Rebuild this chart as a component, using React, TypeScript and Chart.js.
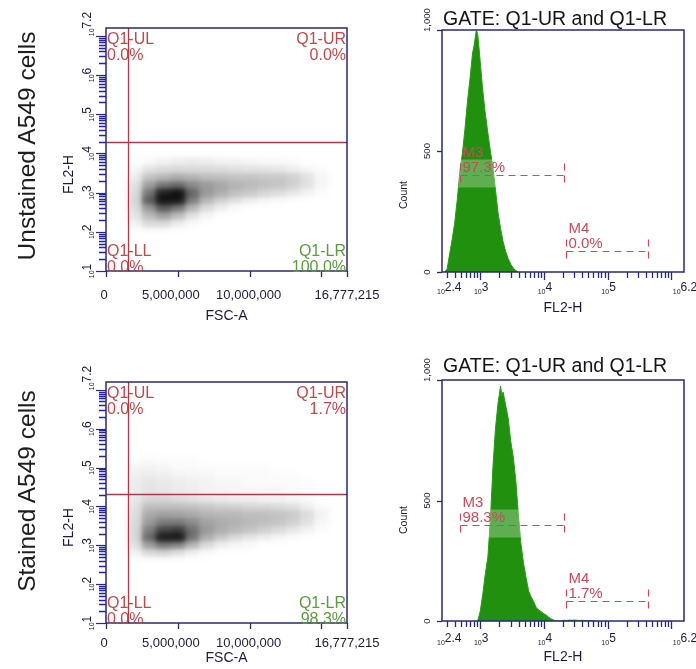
import React, { useEffect, useRef } from 'react';
import { Chart, registerables } from 'chart.js';
Chart.register(...registerables);

const FONT = '"Liberation Sans", Arial, Helvetica, sans-serif';
const NAVY = '#2a2a72';
const TICK_BLUE = '#2323a6';
const LABEL_DARK = '#1c1c3a';
const GATE_RED = '#ad3a48';
const Q_RED = '#bd4a4c';
const Q_GREEN = '#5c9c3c';
const MARK_RED = '#c44c5c';
const HIST_GREEN = '#22900f';

// ---------- scatter panels: FSC-A (millions, 1M bins) x FL2-H (log10, 0.2 decade rows) ----------
const fscBinCentersM = [2, 3, 4, 5, 6, 7, 8, 9, 10, 11, 12, 13, 14, 15];
const fscBinWidthM = 1;
const fl2RowWidthDec = 0.2;

const unstainedRowsLog = [2.2, 2.4, 2.6, 2.8, 3.0, 3.2, 3.4, 3.6, 3.8];
const unstainedDensity = [
  [0.04, 0.1, 0.1, 0.05, 0.02, 0, 0, 0, 0, 0, 0, 0, 0, 0],
  [0.08, 0.22, 0.3, 0.2, 0.08, 0.03, 0, 0, 0, 0, 0, 0, 0, 0],
  [0.1, 0.34, 0.58, 0.46, 0.24, 0.1, 0.05, 0.02, 0, 0, 0, 0, 0, 0],
  [0.12, 0.6, 1.0, 0.95, 0.45, 0.24, 0.14, 0.09, 0.05, 0.03, 0.02, 0, 0, 0],
  [0.11, 0.48, 0.9, 1.0, 0.55, 0.34, 0.27, 0.21, 0.17, 0.13, 0.1, 0.07, 0.04, 0.01],
  [0.09, 0.32, 0.45, 0.5, 0.4, 0.34, 0.29, 0.25, 0.23, 0.21, 0.19, 0.15, 0.09, 0.03],
  [0.06, 0.18, 0.23, 0.26, 0.24, 0.21, 0.2, 0.19, 0.19, 0.17, 0.17, 0.15, 0.09, 0.03],
  [0.03, 0.08, 0.1, 0.11, 0.11, 0.11, 0.1, 0.09, 0.08, 0.08, 0.07, 0.05, 0.03, 0.01],
  [0, 0.02, 0.04, 0.05, 0.06, 0.05, 0.04, 0.04, 0.03, 0.02, 0.02, 0.01, 0, 0],
];

const stainedRowsLog = [2.8, 3.0, 3.2, 3.4, 3.6, 3.8, 4.0, 4.2, 4.4, 4.6, 4.8, 5.0, 5.2];
const stainedDensity = [
  [0.04, 0.1, 0.12, 0.08, 0.04, 0.02, 0, 0, 0, 0, 0, 0, 0, 0],
  [0.09, 0.32, 0.45, 0.4, 0.24, 0.11, 0.05, 0.03, 0.02, 0, 0, 0, 0, 0],
  [0.12, 0.55, 0.98, 1.0, 0.5, 0.27, 0.17, 0.11, 0.07, 0.05, 0.03, 0.02, 0, 0],
  [0.12, 0.44, 0.68, 0.74, 0.5, 0.34, 0.27, 0.23, 0.19, 0.15, 0.11, 0.07, 0.04, 0.01],
  [0.11, 0.33, 0.44, 0.44, 0.39, 0.31, 0.27, 0.25, 0.23, 0.21, 0.19, 0.15, 0.09, 0.03],
  [0.1, 0.28, 0.3, 0.29, 0.27, 0.24, 0.23, 0.23, 0.21, 0.21, 0.19, 0.17, 0.11, 0.04],
  [0.09, 0.2, 0.21, 0.21, 0.19, 0.17, 0.15, 0.14, 0.13, 0.12, 0.11, 0.09, 0.05, 0.02],
  [0.07, 0.13, 0.13, 0.11, 0.09, 0.07, 0.06, 0.05, 0.05, 0.04, 0.04, 0.03, 0.02, 0],
  [0.06, 0.08, 0.07, 0.06, 0.05, 0.04, 0.04, 0.03, 0.03, 0.03, 0.03, 0.02, 0.01, 0],
  [0.06, 0.08, 0.07, 0.06, 0.05, 0.04, 0.03, 0.03, 0.02, 0.02, 0.02, 0.02, 0.01, 0],
  [0.05, 0.06, 0.05, 0.04, 0.03, 0.03, 0.02, 0.02, 0.02, 0.02, 0.01, 0.01, 0, 0],
  [0.03, 0.04, 0.03, 0.02, 0.02, 0.01, 0.01, 0.01, 0.01, 0.01, 0, 0, 0, 0],
  [0.01, 0.02, 0.01, 0.01, 0.01, 0, 0, 0, 0, 0, 0, 0, 0, 0],
];

const fscTicks = [0, 5000000, 10000000, 15000000, 16777215];
const fscTickLabels = [0, 5000000, 10000000, 16777215];
const fl2TickExps = [1, 2, 3, 4, 5, 6, 7.2];
const quadGateFsc = 1530000;
const quadGateFl2Log = [4.3, 4.31];
const quadNames = ['Q1-UL', 'Q1-UR', 'Q1-LL', 'Q1-LR'];
const unstainedQuadPct = [0.0, 0.0, 0.0, 100.0];
const stainedQuadPct = [0.0, 1.7, 0.0, 98.3];

// ---------- histograms: FL2-H (log10 bin centers) vs Count ----------
const unstainedHistLog = [2.44, 2.48, 2.52, 2.56, 2.6, 2.64, 2.68, 2.72, 2.76, 2.8, 2.84, 2.88, 2.9, 2.92, 2.94, 2.96, 2.98, 3.0, 3.04, 3.08, 3.12, 3.16, 3.2, 3.24, 3.28, 3.32, 3.36, 3.4, 3.44, 3.48, 3.52, 3.56, 3.6];
const unstainedHistCount = [0, 12, 75, 135, 205, 300, 415, 490, 590, 705, 800, 905, 930, 965, 1000, 985, 930, 870, 750, 655, 575, 500, 430, 340, 245, 180, 125, 85, 55, 32, 16, 6, 0];
const stainedHistLog = [2.96, 3.0, 3.04, 3.08, 3.12, 3.16, 3.2, 3.24, 3.28, 3.3, 3.32, 3.34, 3.36, 3.4, 3.44, 3.48, 3.52, 3.56, 3.6, 3.64, 3.68, 3.72, 3.76, 3.8, 3.84, 3.88, 3.92, 3.96, 4.0, 4.04, 4.08, 4.12, 4.16, 4.2, 4.24, 4.28, 4.32, 4.36, 4.4, 4.44, 4.48, 4.52, 4.56, 4.6, 4.64, 4.68, 4.72, 4.76, 4.8];
const stainedHistCount = [0, 40, 110, 195, 265, 420, 640, 800, 905, 940, 975, 935, 950, 895, 840, 745, 680, 580, 440, 320, 240, 180, 125, 100, 80, 56, 45, 38, 30, 24, 15, 8, 3, 1, 0, 2, 3, 2, 4, 3, 4, 3, 2, 3, 2, 1, 2, 1, 0];
const histTickExps = [2.4, 3, 4, 5, 6.2];
const countTicks = [0, 500, 1000];
const markerNames = ['M3', 'M4'];
const markerFromLog = [2.68, 4.35];
const markerToLog = [4.31, 5.64];
const markerLevel = [400, 85];
const unstainedMarkerPct = [97.3, 0.0];
const stainedMarkerPct = [98.3, 1.7];
const gateTitle = 'GATE: Q1-UR and Q1-LR';

// ---------- helpers ----------
function line(ctx: CanvasRenderingContext2D, x0: number, y0: number, x1: number, y1: number) {
  ctx.beginPath();
  ctx.moveTo(x0, y0);
  ctx.lineTo(x1, y1);
  ctx.stroke();
}

function powLabel(ctx: CanvasRenderingContext2D, exp: string, x: number, y: number, align: string, base: number, sup: number, raise: number) {
  ctx.font = `${base}px ${FONT}`;
  const w10 = ctx.measureText('10').width;
  ctx.font = `${sup}px ${FONT}`;
  const we = ctx.measureText(exp).width;
  const total = w10 + we;
  const sx = align === 'center' ? x - total / 2 : align === 'right' ? x - total : x;
  ctx.textAlign = 'left';
  ctx.textBaseline = 'alphabetic';
  ctx.font = `${base}px ${FONT}`;
  ctx.fillText('10', sx, y);
  ctx.font = `${sup}px ${FONT}`;
  ctx.fillText(exp, sx + w10, y - raise);
}

function frame(ctx: CanvasRenderingContext2D, a: any) {
  ctx.strokeStyle = NAVY;
  ctx.lineWidth = 1.5;
  ctx.setLineDash([]);
  ctx.strokeRect(a.left, a.top, a.right - a.left, a.bottom - a.top);
}

const densityPlugin = {
  id: 'densityCells',
  beforeDatasetsDraw(chart: any) {
    const { ctx, chartArea: a, scales } = chart;
    const ds = chart.data.datasets[0];
    const meta = chart.getDatasetMeta(0);
    const off = document.createElement('canvas');
    off.width = chart.width;
    off.height = chart.height;
    const o = off.getContext('2d')!;
    const half = Math.pow(10, fl2RowWidthDec / 2);
    meta.data.forEach((_el: any, i: number) => {
      const p = ds.data[i];
      const x0 = Math.round(scales.x.getPixelForValue(p.x - fscBinWidthM * 5e5));
      const x1 = Math.round(scales.x.getPixelForValue(p.x + fscBinWidthM * 5e5));
      const y0 = Math.round(scales.y.getPixelForValue(p.y * half));
      const y1 = Math.round(scales.y.getPixelForValue(p.y / half));
      o.fillStyle = `rgba(12,12,12,${Math.min(1, p.d)})`;
      o.fillRect(x0, y0, x1 - x0, y1 - y0);
    });
    ctx.save();
    ctx.beginPath();
    ctx.rect(a.left, a.top, a.right - a.left, a.bottom - a.top);
    ctx.clip();
    ctx.filter = 'blur(3.6px)';
    ctx.drawImage(off, 0, 0);
    ctx.filter = 'blur(1.2px)';
    ctx.globalAlpha = 0.35;
    ctx.drawImage(off, 0, 0);
    ctx.restore();
  },
};

const scatterDecor = {
  id: 'scatterDecor',
  afterDraw(chart: any) {
    const o = chart.options.plugins.scatterDecor;
    const { ctx, chartArea: a, scales } = chart;
    const x = scales.x;
    const y = scales.y;
    ctx.save();
    // quadrant gate
    ctx.strokeStyle = GATE_RED;
    ctx.lineWidth = 1.3;
    const gx = Math.round(x.getPixelForValue(o.gateX)) + 0.5;
    const gy = Math.round(y.getPixelForValue(Math.pow(10, o.gateYLog))) + 0.5;
    line(ctx, gx, a.top, gx, a.bottom);
    line(ctx, a.left, gy, a.right, gy);
    // y ticks (log)
    for (let n = 1; n <= 7; n++) {
      for (let k = 1; k <= 9; k++) {
        const v = k * Math.pow(10, n);
        if (v > y.max) break;
        const py = Math.round(y.getPixelForValue(v)) + 0.5;
        if (k === 1) {
          ctx.strokeStyle = NAVY;
          ctx.lineWidth = 1.2;
          line(ctx, a.left - 10, py, a.left, py);
        } else {
          ctx.strokeStyle = TICK_BLUE;
          ctx.lineWidth = 1.5;
          line(ctx, a.left - 7, py, a.left, py);
        }
      }
    }
    // x ticks
    ctx.strokeStyle = NAVY;
    ctx.lineWidth = 1.3;
    fscTicks.forEach((v) => {
      const px = Math.round(x.getPixelForValue(v)) + 0.5;
      line(ctx, px, a.bottom, px, a.bottom + 6);
    });
    frame(ctx, a);
    // tick labels
    ctx.fillStyle = LABEL_DARK;
    ctx.font = `13px ${FONT}`;
    ctx.textAlign = 'center';
    ctx.textBaseline = 'alphabetic';
    fscTickLabels.forEach((v, i) => {
      const px = x.getPixelForValue(v);
      const dx = i === 0 ? -2 : i === 1 ? -7 : i === 2 ? -1 : 0;
      ctx.fillText(v.toLocaleString('en-US'), px + dx, o.tickBase);
    });
    fl2TickExps.forEach((e, i) => {
      const py = y.getPixelForValue(Math.pow(10, e));
      ctx.save();
      ctx.translate(a.left - 12.5, py + (i === fl2TickExps.length - 1 ? -4 : 0));
      ctx.rotate(-Math.PI / 2);
      powLabel(ctx, String(e), 0, 0, 'center', 7, 12, 3);
      ctx.restore();
    });
    // axis titles
    ctx.font = `14px ${FONT}`;
    ctx.textAlign = 'center';
    ctx.fillText('FSC-A', (a.left + a.right) / 2, o.titleBase);
    ctx.save();
    ctx.translate(a.left - 33, (a.top + a.bottom) / 2 + 25);
    ctx.rotate(-Math.PI / 2);
    ctx.fillText('FL2-H', 0, 0);
    ctx.restore();
    // quadrant labels
    ctx.font = `16px ${FONT}`;
    const pct = o.pct as number[];
    const place = [
      { i: 0, x: a.left + 1, y: a.top + 16, al: 'left' },
      { i: 1, x: a.right - 1, y: a.top + 16, al: 'right' },
      { i: 2, x: a.left + 1, y: a.bottom - 15, al: 'left' },
      { i: 3, x: a.right - 1, y: a.bottom - 15, al: 'right' },
    ];
    place.forEach((p) => {
      ctx.fillStyle = p.i === 3 ? Q_GREEN : Q_RED;
      ctx.textAlign = p.al as CanvasTextAlign;
      ctx.fillText(quadNames[p.i], p.x, p.y);
      ctx.fillText(pct[p.i].toFixed(1) + '%', p.x, p.y + 15.5);
    });
    ctx.restore();
  },
};

const histDecor = {
  id: 'histDecor',
  afterDraw(chart: any) {
    const o = chart.options.plugins.histDecor;
    const { ctx, chartArea: a, scales } = chart;
    const x = scales.x;
    const y = scales.y;
    ctx.save();
    // markers
    markerNames.forEach((name, i) => {
      const x0 = Math.round(x.getPixelForValue(Math.pow(10, markerFromLog[i]))) + 0.5;
      const x1 = Math.round(x.getPixelForValue(Math.pow(10, markerToLog[i]))) + 0.5;
      const ly = Math.round(y.getPixelForValue(markerLevel[i])) + 0.5;
      ctx.fillStyle = 'rgba(255,255,255,0.28)';
      ctx.fillRect(x0 - 2, ly - 16, x1 - x0 + 5, 28);
      ctx.strokeStyle = MARK_RED;
      ctx.lineWidth = 1.2;
      ctx.setLineDash([7, 5]);
      line(ctx, x0, ly, x1, ly);
      line(ctx, x0, ly - 12, x0, ly + 10);
      line(ctx, x1, ly - 12, x1, ly + 10);
      ctx.setLineDash([]);
      ctx.fillStyle = MARK_RED;
      ctx.font = `15px ${FONT}`;
      ctx.textAlign = 'left';
      ctx.textBaseline = 'alphabetic';
      ctx.fillText(name, x0 + 2, ly - 18.5);
      ctx.fillText((o.pct[i] as number).toFixed(1) + '%', x0 + 2, ly - 3.5);
    });
    // x ticks (log)
    ctx.strokeStyle = NAVY;
    ctx.lineWidth = 1.3;
    for (let n = 2; n <= 6; n++) {
      for (let k = 1; k <= 9; k++) {
        const lv = n + Math.log10(k);
        if (lv < 2.4 || lv > 6.2) continue;
        const px = Math.round(x.getPixelForValue(k * Math.pow(10, n))) + 0.5;
        line(ctx, px, a.bottom, px, a.bottom + (k === 1 ? 8 : 6));
      }
    }
    // y ticks
    countTicks.forEach((v) => {
      const py = Math.round(y.getPixelForValue(v)) + 0.5;
      line(ctx, a.left - 5, py, a.left, py);
    });
    frame(ctx, a);
    // x labels
    ctx.fillStyle = LABEL_DARK;
    histTickExps.forEach((e, i) => {
      const px = x.getPixelForValue(Math.pow(10, e));
      const al = i === 0 ? 'left' : 'center';
      powLabel(ctx, String(e), i === 0 ? px - 5 : px + 1, o.tickBase, al, 7, 12, 3);
    });
    // y labels
    ctx.font = `9.5px ${FONT}`;
    countTicks.forEach((v, i) => {
      const py = y.getPixelForValue(v);
      ctx.save();
      ctx.translate(a.left - 12.5, py);
      ctx.rotate(-Math.PI / 2);
      ctx.textAlign = i === countTicks.length - 1 ? 'left' : 'center';
      ctx.fillText(v.toLocaleString('en-US'), i === countTicks.length - 1 ? -2 : 0, 0);
      ctx.restore();
    });
    // titles
    ctx.font = `14px ${FONT}`;
    ctx.textAlign = 'center';
    ctx.fillText('FL2-H', (a.left + a.right) / 2, a.bottom + 40);
    ctx.save();
    ctx.font = `10.5px ${FONT}`;
    ctx.translate(a.left - 35, o.countY);
    ctx.rotate(-Math.PI / 2);
    ctx.fillText('Count', 0, 0);
    ctx.restore();
    ctx.font = `19.5px ${FONT}`;
    ctx.fillStyle = '#151515';
    ctx.fillText(gateTitle, 555, o.gateBase);
    ctx.restore();
  },
};

function makeScatter(canvas: HTMLCanvasElement, p: any) {
  const cells: any[] = [];
  p.rows.forEach((lg: number, r: number) => {
    fscBinCentersM.forEach((cm, c) => {
      const d = p.density[r][c];
      if (d > 0) cells.push({ x: cm * 1e6, y: Math.pow(10, lg), d });
    });
  });
  return new Chart(canvas, {
    type: 'scatter',
    data: { datasets: [{ data: cells, pointRadius: 0, pointHoverRadius: 0 }] },
    options: {
      animation: false,
      responsive: false,
      events: [],
      layout: { padding: { left: p.area.l, top: p.area.t, right: 696 - p.area.r, bottom: 669 - p.area.b } },
      scales: {
        x: { type: 'linear', min: 0, max: 16777215, display: false, bounds: 'data' },
        y: { type: 'logarithmic', min: 10, max: Math.pow(10, 7.2), display: false, bounds: 'data' },
      },
      plugins: {
        legend: { display: false },
        tooltip: { enabled: false },
        scatterDecor: { gateX: quadGateFsc, gateYLog: p.gateYLog, pct: p.pct, tickBase: p.tickBase, titleBase: p.titleBase },
      } as any,
    },
    plugins: [densityPlugin, scatterDecor],
  } as any);
}

function makeHist(canvas: HTMLCanvasElement, p: any) {
  const pts = p.logs.map((lg: number, i: number) => ({ x: Math.pow(10, lg), y: p.counts[i] }));
  return new Chart(canvas, {
    type: 'line',
    data: {
      datasets: [{
        data: pts, fill: 'origin', backgroundColor: HIST_GREEN, borderColor: '#2a9a18',
        borderWidth: 1, pointRadius: 0, tension: 0,
      }],
    },
    options: {
      animation: false,
      responsive: false,
      events: [],
      layout: { padding: { left: p.area.l, top: p.area.t, right: 696 - p.area.r, bottom: 669 - p.area.b } },
      scales: {
        x: { type: 'logarithmic', min: Math.pow(10, 2.4), max: Math.pow(10, 6.2), display: false, bounds: 'data' },
        y: { type: 'linear', min: 0, max: 1000, display: false, bounds: 'data' },
      },
      plugins: {
        legend: { display: false },
        tooltip: { enabled: false },
        histDecor: { pct: p.pct, tickBase: p.tickBase, countY: p.countY, gateBase: p.gateBase },
      } as any,
    },
    plugins: [histDecor],
  } as any);
}

const rowLabel = (cx: number, cy: number): React.CSSProperties => ({
  position: 'absolute', left: cx, top: cy, transform: 'translate(-50%, -50%) rotate(-90deg)',
  whiteSpace: 'nowrap', font: `24.5px ${FONT}`, color: '#1e1e1e', lineHeight: '1',
});

export default function App() {
  const r0 = useRef<HTMLCanvasElement>(null);
  const r1 = useRef<HTMLCanvasElement>(null);
  const r2 = useRef<HTMLCanvasElement>(null);
  const r3 = useRef<HTMLCanvasElement>(null);
  useEffect(() => {
    const charts = [
      makeScatter(r0.current!, { area: { l: 106, t: 28, r: 347, b: 271 }, rows: unstainedRowsLog, density: unstainedDensity, gateYLog: quadGateFl2Log[0], pct: unstainedQuadPct, tickBase: 299, titleBase: 320 }),
      makeScatter(r1.current!, { area: { l: 106, t: 382, r: 347, b: 623 }, rows: stainedRowsLog, density: stainedDensity, gateYLog: quadGateFl2Log[1], pct: stainedQuadPct, tickBase: 646.5, titleBase: 662 }),
      makeHist(r2.current!, { area: { l: 442, t: 30, r: 684, b: 272 }, logs: unstainedHistLog, counts: unstainedHistCount, pct: unstainedMarkerPct, tickBase: 293.5, countY: 195, gateBase: 25 }),
      makeHist(r3.current!, { area: { l: 442, t: 380, r: 684, b: 621 }, logs: stainedHistLog, counts: stainedHistCount, pct: stainedMarkerPct, tickBase: 645, countY: 520, gateBase: 372 }),
    ];
    return () => charts.forEach((c) => c.destroy());
  }, []);
  const cv: React.CSSProperties = { position: 'absolute', left: 0, top: 0, width: 696, height: 669 };
  return (
    <div style={{ position: 'absolute', left: 0, top: 0, width: 696, height: 669, background: '#fff', overflow: 'hidden' }}>
      <canvas ref={r0} width={696} height={669} style={cv} />
      <canvas ref={r1} width={696} height={669} style={cv} />
      <canvas ref={r2} width={696} height={669} style={cv} />
      <canvas ref={r3} width={696} height={669} style={cv} />
      <div style={rowLabel(27, 146)}>Unstained A549 cells</div>
      <div style={rowLabel(27, 491)}>Stained A549 cells</div>
    </div>
  );
}
